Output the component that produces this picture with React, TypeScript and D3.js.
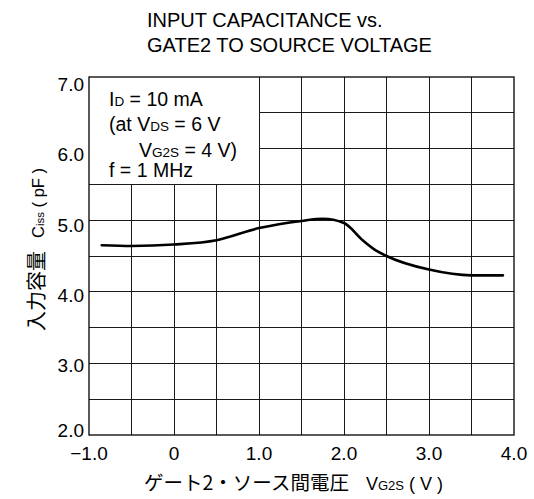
import React from "react";
import * as d3 from "d3";

const vg2s = [-0.85, -0.5, 0.0, 0.5, 1.0, 1.5, 1.75, 2.0, 2.22, 2.36, 2.5, 3.0, 3.5, 3.87];
const ciss = [4.65, 4.64, 4.66, 4.72, 4.89, 4.99, 5.02, 4.96, 4.72, 4.59, 4.5, 4.31, 4.23, 4.23];
const xTicks = [-1, 0, 1, 2, 3, 4];
const xTickLabels = ["\u22121.0", "0", "1.0", "2.0", "3.0", "4.0"];
const yTicks = [2, 3, 4, 5, 6, 7];
const yTickLabels = ["2.0", "3.0", "4.0", "5.0", "6.0", "7.0"];
const xGrid = [-0.5, 0, 0.5, 1, 1.5, 2, 2.5, 3, 3.5];
const yGrid = [2.5, 3, 3.5, 4, 4.5, 5, 5.5, 6, 6.5];

const W = 534;
const H = 499;
const LAT = "Arial, 'Liberation Sans', Helvetica, sans-serif";
const JP = "'Noto Sans CJK JP', sans-serif";

export default function App() {
  const x = d3.scaleLinear().domain([-1, 4]).range([89, 514]);
  const y = d3.scaleLinear().domain([2, 7]).range([435, 77]);
  // tick labels in the original sit slightly off their grid lines
  const yLab = d3.scaleLinear().domain([2, 3, 7]).range([437, 372, 91]);
  const line = d3
    .line<number>()
    .x((_, i) => x(vg2s[i]))
    .y((d) => y(d))
    .curve(d3.curveMonotoneX);

  const boxX = 1;
  const boxY = 5.5;

  return (
    <svg
      width={W}
      height={H}
      style={{ position: "absolute", left: 0, top: 0, background: "#fff" }}
      fontFamily={LAT}
    >
      <rect x={0} y={0} width={W} height={H} fill="#fff" />
      <text x={147} y={27} fontSize={20} fill="#000">INPUT CAPACITANCE vs.</text>
      <text x={147} y={52} fontSize={20} fill="#000">GATE2 TO SOURCE VOLTAGE</text>

      <g stroke="#1a1a1a" strokeWidth={1} shapeRendering="crispEdges">
        {xGrid.map((g) => (
          <line
            key={"vx" + g}
            x1={x(g)}
            x2={x(g)}
            y1={g < boxX ? y(boxY) : y(7)}
            y2={y(2)}
          />
        ))}
        {yGrid.map((g) => (
          <line
            key={"hy" + g}
            x1={g > boxY ? x(boxX) : x(-1)}
            x2={x(4)}
            y1={y(g)}
            y2={y(g)}
          />
        ))}
      </g>
      <rect
        x={x(-1)}
        y={y(7)}
        width={x(4) - x(-1)}
        height={y(2) - y(7)}
        fill="none"
        stroke="#000"
        strokeWidth={1.3}
      />

      <path d={line(ciss) || ""} fill="none" stroke="#000" strokeWidth={2.6} strokeLinecap="round" />

      <g fontSize={19.5} fill="#000">
        <text x={109} y={106}>
          I<tspan fontSize={13.5}>D</tspan> = 10 mA
        </text>
        <text x={109} y={131}>
          (at V<tspan fontSize={13.5}>DS</tspan> = 6 V
        </text>
        <text x={139} y={157}>
          V<tspan fontSize={13.5}>G2S</tspan> = 4 V)
        </text>
        <text x={109} y={177}>f = 1 MHz</text>
      </g>

      <g fontSize={19} fill="#000" textAnchor="end">
        {yTicks.map((t, i) => (
          <text key={"yt" + t} x={84} y={yLab(t)}>
            {yTickLabels[i]}
          </text>
        ))}
      </g>
      <g fontSize={19} fill="#000" textAnchor="middle">
        {xTicks.map((t, i) => (
          <text key={"xt" + t} x={x(t)} y={460}>
            {xTickLabels[i]}
          </text>
        ))}
      </g>

      <text x={293.5} y={490} fontSize={18} textAnchor="middle" fill="#000">
        <tspan fontFamily={JP} fontSize={19.5}>ゲート2・ソース間電圧</tspan>
        <tspan dx={17}>V</tspan>
        <tspan fontSize={13}>G2S</tspan>
        <tspan> ( V )</tspan>
      </text>

      <text
        transform="translate(44,331) rotate(-90)"
        fontSize={16.5}
        textAnchor="start"
        fill="#000"
      >
        <tspan fontFamily={JP} fontSize={20}>入力容量</tspan>
        <tspan dx={13}>C</tspan>
        <tspan fontSize={11.5}>iss</tspan>
        <tspan> ( pF )</tspan>
      </text>
    </svg>
  );
}
